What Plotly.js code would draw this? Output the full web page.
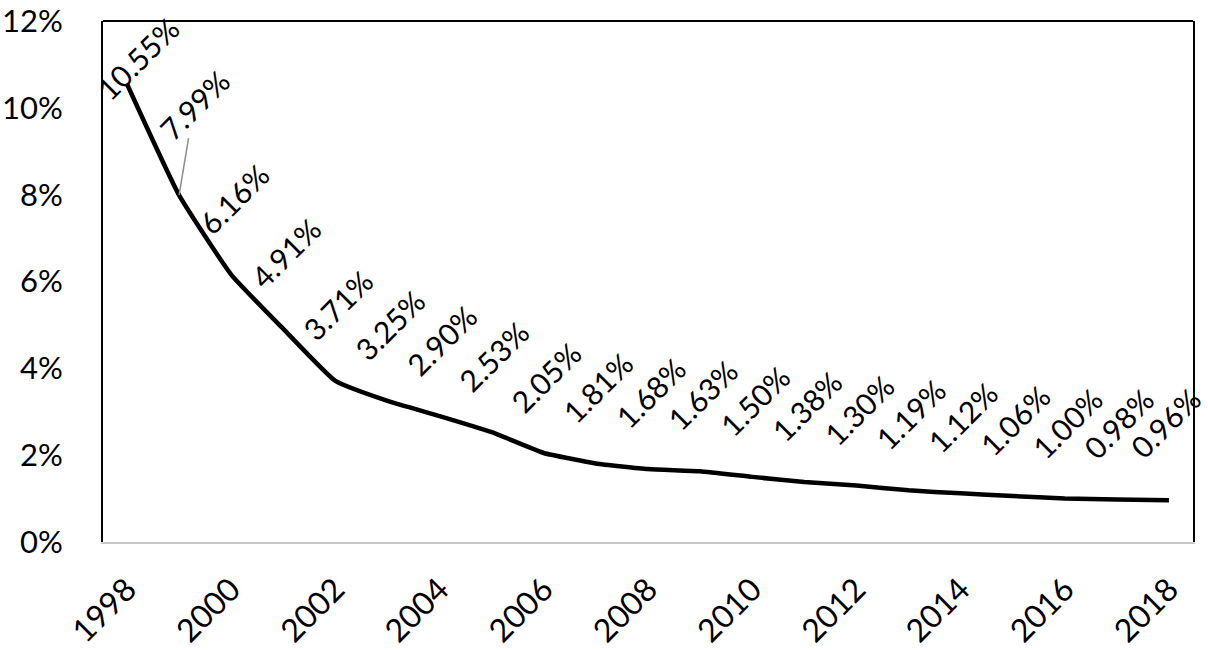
<!DOCTYPE html>
<html>
<head>
<meta charset="utf-8">
<script src="https://cdn.plot.ly/plotly-3.0.1.min.js"></script>
<style>
  html, body { margin: 0; padding: 0; background: #fff; }
  #chart { width: 1208px; height: 650px; }
</style>
</head>
<body>
<div id="chart"></div>
<script>
// ---- data ----
const years = [1998, 1999, 2000, 2001, 2002, 2003, 2004, 2005, 2006, 2007, 2008,
               2009, 2010, 2011, 2012, 2013, 2014, 2015, 2016, 2017, 2018];
const rates = [10.55, 7.99, 6.16, 4.91, 3.71, 3.25, 2.90, 2.53, 2.05, 1.81, 1.68,
               1.63, 1.50, 1.38, 1.30, 1.19, 1.12, 1.06, 1.00, 0.98, 0.96];
const yTickVals = [0, 2, 4, 6, 8, 10, 12];
const yTickText = ['0%', '2%', '4%', '6%', '8%', '10%', '12%'];
const xTickVals = [1998, 2000, 2002, 2004, 2006, 2008, 2010, 2012, 2014, 2016, 2018];

// ---- label placement (style, not data) ----
const FONT = 'Lato, "Liberation Sans", sans-serif';
const defaultShift = [2, 76];            // [xshift, yshift] in px
const specialShift = { 0: [11, 26], 20: [-4, 77] };
const leaderIdx = 1;                      // label moved away, drawn with a leader line
const leaderOffset = [15, -90];

const annotations = years.map((yr, i) => {
  const txt = rates[i].toFixed(2) + '%';
  const base = {
    x: yr, y: rates[i], xref: 'x', yref: 'y',
    text: txt, textangle: -45,
    font: { family: FONT, size: 30, color: '#000' },
    xanchor: 'center', yanchor: 'middle'
  };
  if (i === leaderIdx) {
    return Object.assign(base, {
      showarrow: true, arrowhead: 0, arrowwidth: 1.5, arrowcolor: '#8c8c8c',
      ax: leaderOffset[0], ay: leaderOffset[1], standoff: 0
    });
  }
  const s = specialShift[i] || defaultShift;
  return Object.assign(base, { showarrow: false, xshift: s[0], yshift: s[1] });
});

const trace = {
  x: years, y: rates, type: 'scatter', mode: 'lines',
  line: { color: '#000', width: 4.5, shape: 'spline', smoothing: 0.4 },
  hoverinfo: 'skip'
};

const layout = {
  width: 1208, height: 650,
  margin: { l: 103, r: 15, t: 21, b: 108 },
  paper_bgcolor: '#fff', plot_bgcolor: '#fff',
  showlegend: false,
  xaxis: {
    range: [1997.54, 2018.46],
    tickvals: xTickVals, ticktext: xTickVals.map(String),
    tickangle: -45, ticks: '', showgrid: false, zeroline: false,
    showline: true, linecolor: '#c8c8c8', linewidth: 2,
    ticklabelstandoff: 14, ticklabeloverflow: 'allow',
    tickfont: { family: FONT, size: 32, color: '#000' }
  },
  yaxis: {
    range: [0, 12],
    tickvals: yTickVals, ticktext: yTickText,
    ticks: '', showgrid: false, zeroline: false,
    showline: true, mirror: true, linecolor: '#000', linewidth: 2,
    ticklabelstandoff: 32, ticklabeloverflow: 'allow',
    tickfont: { family: FONT, size: 31, color: '#000' }
  },
  shapes: [{
    type: 'line', xref: 'paper', yref: 'paper', x0: 0, x1: 1, y0: 1, y1: 1,
    line: { color: '#000', width: 2 }
  }],
  annotations: annotations
};

Plotly.newPlot('chart', [trace], layout, { staticPlot: true, displayModeBar: false });
</script>
</body>
</html>
